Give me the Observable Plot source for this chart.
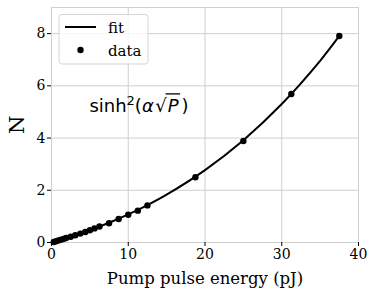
<!DOCTYPE html>
<html>
<head>
<meta charset="utf-8">
<script src="https://cdn.jsdelivr.net/npm/d3@7"></script>
<script src="https://cdn.jsdelivr.net/npm/@observablehq/plot@0.6"></script>
<style>
  html, body { margin: 0; padding: 0; background: white; }
  #chart { width: 367px; height: 288px; }
  #chart svg text { font-family: 'DejaVu Serif', serif !important; }
  #chart svg text.formula, #chart svg text.formula tspan { font-family: 'DejaVu Sans', sans-serif !important; }
</style>
</head>
<body>
<div id="chart"></div>
<script>
// Data
const dataEnergy = [0.3, 0.6, 0.9, 1.25, 1.6, 1.9, 2.5, 3.1, 3.75, 4.4, 5, 5.6, 6.25, 7.5, 8.75, 10, 11.25, 12.5, 18.75, 25, 31.25, 37.5];
const dataN      = [0.02, 0.05, 0.08, 0.11, 0.14, 0.17, 0.22, 0.28, 0.34, 0.40, 0.47, 0.54, 0.61, 0.74, 0.90, 1.06, 1.22, 1.42, 2.50, 3.89, 5.69, 7.91];
const fitEnergy  = [0, 0.5, 1, 2.5, 5, 7.5, 10, 12.5, 15, 20, 25, 30, 35, 37.5];
const fitN       = [0, 0.042, 0.085, 0.220, 0.471, 0.755, 1.075, 1.434, 1.834, 2.774, 3.92, 5.304, 6.96, 7.91];
const xTicks = [0, 10, 20, 30, 40];
const yTicks = [0, 2, 4, 6, 8];

const dataPts = dataEnergy.map((p, i) => ({p, n: dataN[i]}));
const fitPts = fitEnergy.map((p, i) => ({p, n: fitN[i]}));

const serif = "DejaVu Serif";

const plot = Plot.plot({
  width: 367,
  height: 288,
  marginLeft: 51,
  marginRight: 9,
  marginTop: 7,
  marginBottom: 46,
  style: {fontFamily: serif, fontSize: "14px", color: "#000", background: "white", overflow: "visible"},
  x: {domain: [0, 40]},
  y: {domain: [0, 9]},
  marks: [
    Plot.gridX(xTicks, {stroke: "#cfcfcf", strokeOpacity: 1, strokeWidth: 1}),
    Plot.gridY(yTicks, {stroke: "#cfcfcf", strokeOpacity: 1, strokeWidth: 1}),
    Plot.frame({stroke: "#cfcfcf", strokeWidth: 1}),
    Plot.axisX(xTicks, {tickSize: 4, tickPadding: 3, fontSize: 14, label: null, stroke: "#000"}),
    Plot.axisY(yTicks, {tickSize: 4, tickPadding: 2, fontSize: 14, label: null, stroke: "#000"}),
    Plot.text(["Pump pulse energy (pJ)"], {frameAnchor: "bottom", dy: 36.5, lineAnchor: "middle", fontSize: 16.5, fill: "#000"}),
    Plot.text(["N"], {frameAnchor: "left", dx: -34, dy: 9, rotate: -90, fontSize: 21, fill: "#000"}),
    Plot.line(fitPts, {x: "p", y: "n", stroke: "#000", strokeWidth: 2, curve: "catmull-rom"}),
    Plot.dot(dataPts, {x: "p", y: "n", r: 3.2, fill: "#000", stroke: "none"})
  ]
});

document.getElementById("chart").appendChild(plot);

const svg = d3.select(plot);
svg.selectAll("text").attr("font-family", "DejaVu Serif");
const sx = plot.scale("x"), sy = plot.scale("y");

// Formula annotation: sinh²(α√P)
const fs = 18;
const bx = sx.apply(5.0), by = sy.apply(5.0) + 1;
const ft = svg.append("text")
  .attr("class", "formula")
  .attr("x", bx)
  .attr("y", by)
  .attr("text-anchor", "start")
  .attr("font-size", fs)
  .attr("fill", "#000");
ft.append("tspan").text("sinh");
ft.append("tspan").attr("font-size", 13).attr("dy", -7).text("2");
ft.append("tspan").attr("dy", 7).text("(");
ft.append("tspan").attr("font-style", "italic").text("α");
ft.append("tspan").attr("dx", 1.5).text("√");
ft.append("tspan").attr("font-style", "italic").attr("dx", 1).text("P");
ft.append("tspan").attr("dx", 3).text(")");
// overline of the radical, drawn over P
try {
  const n = ft.node();
  const eR = n.getExtentOfChar(7);
  const eP = n.getExtentOfChar(8);
  const yBar = by - fs * 1.03;
  svg.append("line")
    .attr("x1", eR.x + eR.width - 1.2).attr("x2", eP.x + eP.width + 1.5)
    .attr("y1", yBar).attr("y2", yBar)
    .attr("stroke", "#000").attr("stroke-width", 1.3);
} catch (e) {}

// Legend
const lg = svg.append("g").attr("text-anchor", "start");
lg.append("rect").attr("x", 59).attr("y", 14.5).attr("width", 89).attr("height", 49.5)
  .attr("rx", 3).attr("fill", "white").attr("fill-opacity", 0.8)
  .attr("stroke", "#d5d5d5").attr("stroke-width", 1);
lg.append("line").attr("x1", 65).attr("x2", 96).attr("y1", 27).attr("y2", 27)
  .attr("stroke", "#000").attr("stroke-width", 2);
lg.append("circle").attr("cx", 80.5).attr("cy", 50).attr("r", 3.2).attr("fill", "#000");
lg.append("text").attr("x", 108).attr("y", 32.5).attr("font-size", 15).attr("font-family", "DejaVu Serif").attr("fill", "#000").text("fit");
lg.append("text").attr("x", 108).attr("y", 55.5).attr("font-size", 15).attr("font-family", "DejaVu Serif").attr("fill", "#000").text("data");
</script>
</body>
</html>
